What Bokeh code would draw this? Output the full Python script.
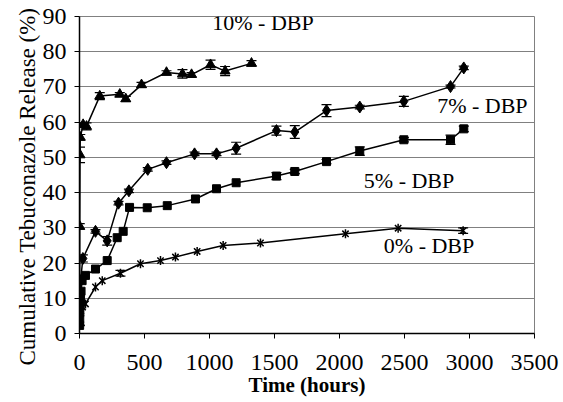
from bokeh.plotting import figure
from bokeh.models import ColumnDataSource, Whisker, TeeHead, FixedTicker, Range1d, Label, Title
from bokeh.embed import file_html
from bokeh.resources import INLINE

# ---- data ----
t10 = [1, 2, 4, 6, 28, 54, 156, 310, 356, 477, 669, 792, 862, 1008, 1120, 1323]
y10 = [3, 30.4, 50.7, 55.7, 59.3, 58.8, 67.4, 67.9, 66.6, 70.6, 74.1, 73.7, 73.5, 76.3, 74.5, 76.7]
e10 = [0, 0.8, 2.2, 0.8, 0.5, 1.0, 1.0, 0.5, 0.7, 0.7, 0.5, 1.2, 0.6, 1.3, 1.3, 0.8]

t7 = [1, 2, 4, 8, 26, 123, 213, 300, 380, 525, 669, 885, 1054, 1205, 1515, 1656, 1900, 2156, 2495, 2854, 2956]
y7 = [5, 8.5, 12, 15, 21.3, 29.0, 26.3, 37.0, 40.5, 46.6, 48.5, 51.0, 51.0, 52.6, 57.6, 57.2, 63.3, 64.3, 65.9, 70.1, 75.4]
e7 = [0, 0, 0, 0, 1.0, 0.5, 1.2, 0.5, 0.5, 0.5, 0.5, 0.5, 0.5, 1.7, 1.3, 1.8, 1.7, 0.5, 1.4, 0.4, 0.5]

t5 = [1, 2, 3, 5, 8, 12, 20, 46, 123, 213, 290, 336, 385, 521, 675, 892, 1054, 1205, 1515, 1656, 1900, 2156, 2495, 2854, 2956]
y5 = [2.3, 4, 6, 8, 10, 12, 15, 16.5, 18.3, 20.7, 27.2, 29.0, 35.8, 35.7, 36.3, 38.2, 41.1, 42.8, 44.7, 46.0, 48.8, 51.8, 55.0, 55.0, 58.1]
e5 = [0, 0, 0, 0, 0, 0, 0, 0, 0, 0, 0, 0, 0, 0, 0, 0, 0, 0, 1.0, 0.6, 0.6, 1.2, 0.6, 1.3, 0.8]

t0 = [1, 2, 5, 10, 24, 46, 123, 175, 315, 469, 623, 738, 905, 1105, 1392, 2046, 2451, 2951]
y0 = [3, 4, 5.5, 6.5, 7.5, 8.4, 13.2, 15.0, 17.1, 19.8, 20.7, 21.7, 23.3, 25.0, 25.7, 28.3, 29.9, 29.2]
e0 = [0, 0, 0, 0, 0, 0, 0, 0, 0.8, 0, 0, 0, 0, 0, 0, 0, 0, 0.8]

x_ticks = [0, 500, 1000, 1500, 2000, 2500, 3000, 3500]
y_ticks = [0, 10, 20, 30, 40, 50, 60, 70, 80, 90]

labels = ["10% - DBP", "7% - DBP", "5% - DBP", "0% - DBP"]
label_x = [1021, 2751, 2187, 2341]
label_y = [88.3, 64.7, 43.4, 25.0]

y_title = "Cumulative Tebuconazole Release (%)"
x_title = "Time (hours)"

FONT = "Liberation Serif"

p = figure(width=563, height=402, output_backend="svg", toolbar_location=None,
           x_range=Range1d(0, 3500), y_range=Range1d(0, 90),
           min_border_left=79, min_border_right=29, min_border_top=16, min_border_bottom=69)

p.outline_line_color = "#808080"
p.outline_line_width = 1

for ax in (p.xaxis[0], p.yaxis[0]):
    ax.axis_line_color = "black"
    ax.axis_line_width = 1.5
    ax.major_tick_line_color = "black"
    ax.major_tick_in = 0
    ax.major_tick_out = 5
    ax.minor_tick_line_color = None
    ax.major_label_text_font = FONT
    ax.major_label_text_font_size = "24px"
    ax.major_label_text_color = "black"
    ax.axis_label_text_font = FONT
    ax.axis_label_text_color = "black"

p.xaxis.ticker = FixedTicker(ticks=x_ticks)
p.yaxis.ticker = FixedTicker(ticks=y_ticks)
p.xaxis.axis_label = x_title
p.xaxis.axis_label_text_font_style = "bold"
p.xaxis.axis_label_text_font_size = "21px"
p.xaxis.major_label_standoff = 16
p.xaxis.axis_label_standoff = 0
p.yaxis.major_label_standoff = 8

p.xgrid.grid_line_color = None
p.ygrid.grid_line_color = "#808080"
p.ygrid.grid_line_width = 1

# y-axis title (sits slightly below the frame centre, as in the reference)
p.add_layout(Title(text=y_title, align="left", offset=-32, text_font=FONT,
                   text_font_size="23px", text_font_style="normal", text_color="black",
                   standoff=0), "left")


def add_series(t, y, e, marker, size):
    src = ColumnDataSource(dict(t=t, y=y))
    p.line("t", "y", source=src, line_color="black", line_width=1.5)
    if marker == "star":
        p.scatter("t", "y", source=src, marker="x", size=size, line_color="black", line_width=1.5)
        p.scatter("t", "y", source=src, marker="dash", size=size, angle=1.5708,
                  line_color="black", line_width=1.5)
    else:
        p.scatter("t", "y", source=src, marker=marker, size=size,
                  fill_color="black", line_color="black")
    ei = [i for i, v in enumerate(e) if v > 0]
    esrc = ColumnDataSource(dict(t=[t[i] for i in ei],
                                 lo=[y[i] - e[i] for i in ei],
                                 hi=[y[i] + e[i] for i in ei]))
    w = Whisker(base="t", lower="lo", upper="hi", source=esrc, line_color="black", line_width=1.2,
                upper_head=TeeHead(size=10, line_color="black", line_width=1.2),
                lower_head=TeeHead(size=10, line_color="black", line_width=1.2))
    p.add_layout(w)


add_series(t0, y0, e0, "star", 9)
add_series(t5, y5, e5, "square", 8)
add_series(t7, y7, e7, "diamond", 12)
add_series(t10, y10, e10, "triangle", 10)

for txt, lx, ly in zip(labels, label_x, label_y):
    p.add_layout(Label(x=lx, y=ly, text=txt, text_font=FONT, text_font_size="22px",
                       text_color="black", text_align="left", text_baseline="middle"))

open("out.html", "w").write(file_html(p, INLINE))
